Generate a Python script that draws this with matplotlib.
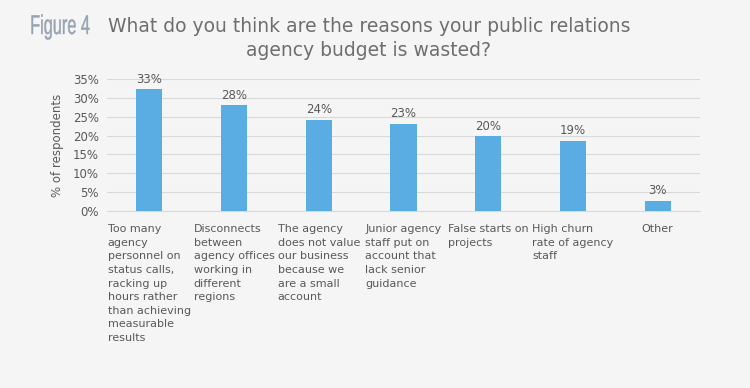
import matplotlib
matplotlib.use("Agg")
import matplotlib.pyplot as plt
import numpy as np
from matplotlib.textpath import TextPath
from matplotlib.patches import PathPatch
from matplotlib.font_manager import FontProperties
from matplotlib.transforms import Affine2D, IdentityTransform

categories = [
    "Too many\nagency\npersonnel on\nstatus calls,\nracking up\nhours rather\nthan achieving\nmeasurable\nresults",
    "Disconnects\nbetween\nagency offices\nworking in\ndifferent\nregions",
    "The agency\ndoes not value\nour business\nbecause we\nare a small\naccount",
    "Junior agency\nstaff put on\naccount that\nlack senior\nguidance",
    "False starts on\nprojects",
    "High churn\nrate of agency\nstaff",
    "Other",
]
values = [32.3, 28.0, 24.2, 23.1, 19.8, 18.6, 2.7]
value_labels = ["33%", "28%", "24%", "23%", "20%", "19%", "3%"]
yticks = [0, 5, 10, 15, 20, 25, 30, 35]

BG = "#f5f5f5"
TXT = "#595959"
FONT = ["Liberation Sans Narrow", "DejaVu Sans"]
plt.rcParams["font.family"] = FONT

fig = plt.figure(figsize=(7.5, 3.88), dpi=100, facecolor=BG)
ax = fig.add_axes([107/750, 1-211/388, (700-107)/750, (211-79)/388], facecolor=BG)

x = np.arange(len(categories))
ax.bar(x, values, width=0.31, color="#5aade3", zorder=3)
for xi, v, lab in zip(x, values, value_labels):
    ax.text(xi, v + 0.9, lab, ha="center", va="bottom", fontsize=8.5, color=TXT)

ax.set_xlim(-0.5, len(categories) - 0.5)
ax.set_ylim(0, 35)
ax.set_yticks(yticks)
ax.set_yticklabels([f"{t}%" for t in yticks], fontsize=8.5, color=TXT)
ax.yaxis.grid(True, color="#d9d9d9", linewidth=0.8, zorder=0)
ax.set_xticks([])
for s in ["top", "right", "left"]:
    ax.spines[s].set_visible(False)
ax.spines["bottom"].set_color("#d9d9d9")
ax.tick_params(axis="y", length=0, pad=6)
ax.set_ylabel("% of respondents", fontsize=8.5, color=TXT, labelpad=6)

for xi, cat in zip(x, categories):
    ax.text(xi, -3.5, cat, ha="center", va="top", multialignment="left",
            fontsize=8, color=TXT, linespacing=1.45)

# "Figure 4" as a tall condensed label
tp = TextPath((0, 0), "Figure 4", size=100, prop=FontProperties(family="Liberation Sans"))
ext = tp.get_extents()
H = fig.get_figheight() * fig.dpi
sx = 58.0 / ext.width
sy = 19.5 / 71.6
tr = Affine2D().translate(-ext.x0, 0).scale(sx, sy).translate(31.5, H - 34)
patch = PathPatch(tr.transform_path(tp), facecolor="#97a3b3", edgecolor="#97a3b3",
                  linewidth=0.3)
patch.set_transform(IdentityTransform())
fig.add_artist(patch)

fig.text(369/750, 1-26/388, "What do you think are the reasons your public relations",
         fontsize=13.5, color="#6e6e6e", va="center", ha="center")
fig.text(369/750, 1-50/388, "agency budget is wasted?",
         fontsize=13.5, color="#6e6e6e", va="center", ha="center")

fig.savefig("out.png", dpi=100, facecolor=BG)
